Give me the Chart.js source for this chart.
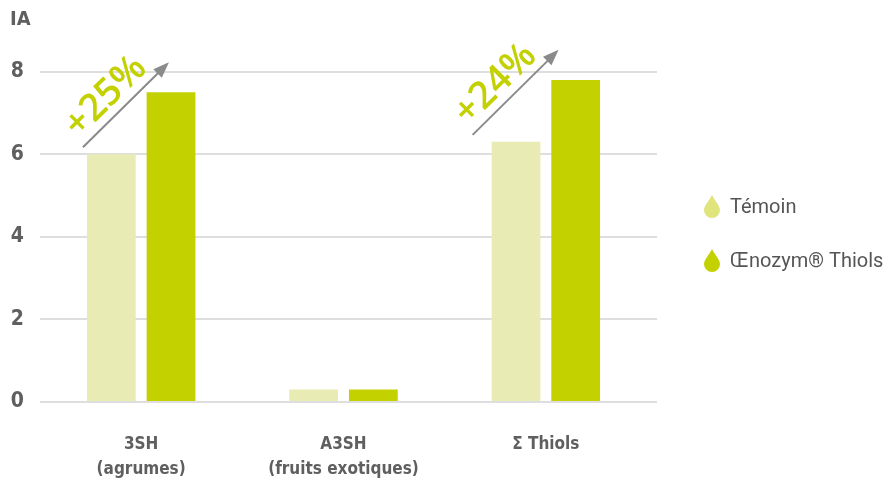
<!DOCTYPE html>
<html>
<head>
<meta charset="utf-8">
<script src="https://cdn.jsdelivr.net/npm/chart.js@4"></script>
<style>
  html, body { margin: 0; padding: 0; background: #fff; }
  #wrap { width: 886px; height: 480px; }
</style>
</head>
<body>
<div id="wrap"><canvas id="thiolsChart"></canvas></div>
<script>
// Data
const categories = [['3SH', '(agrumes)'], ['A3SH', '(fruits exotiques)'], ['Σ Thiols']];
const temoinValues = [6.0, 0.3, 6.3];
const oenozymValues = [7.5, 0.3, 7.8];
const yTicks = [0, 2, 4, 6, 8];
const seriesNames = ['Témoin', 'Œnozym® Thiols'];
const gains = ['+25%', null, '+24%'];

const lightGreen = '#e8ecb4';
const darkGreen = '#c3d100';
const textGrey = '#5f5f5f';
const gridGrey = '#dedede';
const condensed = '"DejaVu Sans Condensed", "Liberation Sans Narrow", sans-serif';

// gridlines run a little past the last group
const gridExtend = {
    id: 'gridExtend',
    beforeDatasetsDraw(chart) {
        const ctx = chart.ctx;
        const y = chart.scales.y;
        const right = chart.chartArea.right;
        ctx.save();
        ctx.strokeStyle = gridGrey;
        ctx.lineWidth = 2;
        yTicks.forEach(v => {
            const py = Math.round(y.getPixelForValue(v));
            ctx.beginPath();
            ctx.moveTo(right, py);
            ctx.lineTo(right + 10, py);
            ctx.stroke();
        });
        ctx.restore();
    }
};

// Arrow + percentage annotations above the bar pairs
const gainPlugin = {
    id: 'gains',
    afterDatasetsDraw(chart) {
        const ctx = chart.ctx;
        const y = chart.scales.y;
        const m0 = chart.getDatasetMeta(0);
        gains.forEach((txt, i) => {
            if (!txt) return;
            const b0 = m0.data[i];
            const x0 = b0.x - b0.width / 2 - (i === 0 ? 4 : 19);
            const y0 = y.getPixelForValue(temoinValues[i]) - 7;
            const x1 = x0 + 86;
            const y1 = y0 - 85;
            ctx.save();
            ctx.strokeStyle = '#8a8a8a';
            ctx.fillStyle = '#8a8a8a';
            ctx.lineWidth = 2;
            ctx.beginPath();
            ctx.moveTo(x0, y0);
            ctx.lineTo(x1 - 8, y1 + 8);
            ctx.stroke();
            // head
            const ang = Math.atan2(y1 - y0, x1 - x0);
            ctx.beginPath();
            ctx.moveTo(x1, y1);
            ctx.lineTo(x1 - 16 * Math.cos(ang) + 6 * Math.sin(ang), y1 - 16 * Math.sin(ang) - 6 * Math.cos(ang));
            ctx.lineTo(x1 - 16 * Math.cos(ang) - 6 * Math.sin(ang), y1 - 16 * Math.sin(ang) + 6 * Math.cos(ang));
            ctx.closePath();
            ctx.fill();
            // text
            const mx = (x0 + x1) / 2 - 20;
            const my = (y0 + y1) / 2 - 8;
            ctx.translate(mx, my);
            ctx.rotate(ang);
            ctx.fillStyle = darkGreen;
            ctx.font = '600 38px "Open Sans", Lato, sans-serif';
            ctx.textAlign = 'center';
            ctx.textBaseline = 'middle';
            ctx.fillText(txt, 0, 0);
            ctx.restore();
        });
    }
};

// Legend with drop markers on the right
function drawDrop(ctx, cx, cy, color) {
    ctx.save();
    ctx.fillStyle = color;
    ctx.beginPath();
    ctx.moveTo(cx, cy - 12);
    ctx.bezierCurveTo(cx + 3, cy - 6, cx + 8, cy - 1, cx + 8, cy + 3);
    ctx.arc(cx, cy + 3, 8, 0, Math.PI, false);
    ctx.bezierCurveTo(cx - 8, cy - 1, cx - 3, cy - 6, cx, cy - 12);
    ctx.fill();
    ctx.restore();
}

const legendPlugin = {
    id: 'dropLegend',
    afterDraw(chart) {
        const ctx = chart.ctx;
        const colors = ['#dfe47c', darkGreen];
        const rows = [207, 261];
        seriesNames.forEach((name, i) => {
            drawDrop(ctx, 712, rows[i], colors[i]);
            ctx.save();
            ctx.fillStyle = '#555';
            ctx.font = '20px Roboto, "Liberation Sans", sans-serif';
            ctx.textBaseline = 'middle';
            ctx.fillText(name, 730, rows[i] + 1);
            ctx.restore();
        });
    }
};

const chart = new Chart(document.getElementById('thiolsChart'), {
    type: 'bar',
    data: {
        labels: categories,
        datasets: [
            {
                label: seriesNames[0],
                data: temoinValues,
                backgroundColor: lightGreen,
                borderWidth: 0,
                categoryPercentage: 0.59,
                barPercentage: 0.817
            },
            {
                label: seriesNames[1],
                data: oenozymValues,
                backgroundColor: darkGreen,
                borderWidth: 0,
                categoryPercentage: 0.59,
                barPercentage: 0.817
            }
        ]
    },
    options: {
        responsive: true,
        maintainAspectRatio: false,
        animation: false,
        layout: {
            padding: { left: 10, right: 239, top: 0, bottom: 0 }
        },
        plugins: {
            legend: { display: false },
            tooltip: { enabled: false },
            title: {
                display: true,
                text: 'IA',
                align: 'start',
                color: textGrey,
                font: { family: condensed, size: 20, weight: 'bold' },
                padding: { top: 8, bottom: 19 }
            }
        },
        scales: {
            x: {
                grid: { display: false, drawTicks: false },
                border: { display: false },
                afterFit: scale => { scale.height = 78; },
                ticks: {
                    color: textGrey,
                    padding: 31,
                    maxRotation: 0,
                    font: { family: condensed, size: 17, weight: 'bold', lineHeight: 1.42 }
                }
            },
            y: {
                min: 0,
                max: 8.5,
                afterBuildTicks: scale => {
                    scale.ticks = yTicks.map(v => ({ value: v }));
                },
                afterFit: scale => { scale.width = 30; },
                grid: { color: gridGrey, lineWidth: 2, drawTicks: false },
                border: { display: false },
                ticks: {
                    color: textGrey,
                    padding: 16,
                    font: { family: condensed, size: 21, weight: 'bold' }
                }
            }
        }
    },
    plugins: [gridExtend, gainPlugin, legendPlugin]
});
</script>
</body>
</html>
